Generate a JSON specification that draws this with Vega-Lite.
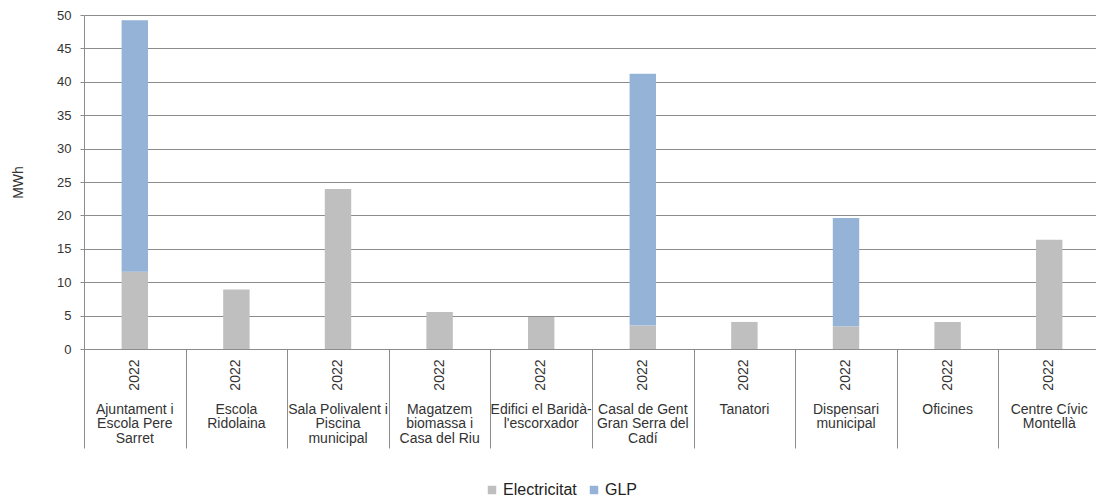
{
  "$schema": "https://vega.github.io/schema/vega-lite/v6.json",
  "width": 1016,
  "height": 334,
  "autosize": {"type": "none"},
  "padding": {"left": 84, "top": 15, "right": -4, "bottom": 150},
  "background": "white",
  "config": {"font": "Liberation Sans", "view": {"stroke": null}},
  "data": {
    "values": [
      {"edifici": "Ajuntament i\nEscola Pere\nSarret", "any": 2022, "font": "Electricitat", "mwh": 11.55},
      {"edifici": "Ajuntament i\nEscola Pere\nSarret", "any": 2022, "font": "GLP", "mwh": 37.65},
      {"edifici": "Escola\nRidolaina", "any": 2022, "font": "Electricitat", "mwh": 8.9},
      {"edifici": "Sala Polivalent i\nPiscina\nmunicipal", "any": 2022, "font": "Electricitat", "mwh": 23.95},
      {"edifici": "Magatzem\nbiomassa i\nCasa del Riu", "any": 2022, "font": "Electricitat", "mwh": 5.54},
      {"edifici": "Edifici el Baridà-\nl'escorxador", "any": 2022, "font": "Electricitat", "mwh": 4.79},
      {"edifici": "Casal de Gent\nGran Serra del\nCadí", "any": 2022, "font": "Electricitat", "mwh": 3.5},
      {"edifici": "Casal de Gent\nGran Serra del\nCadí", "any": 2022, "font": "GLP", "mwh": 37.7},
      {"edifici": "Tanatori", "any": 2022, "font": "Electricitat", "mwh": 4.05},
      {"edifici": "Dispensari\nmunicipal", "any": 2022, "font": "Electricitat", "mwh": 3.4},
      {"edifici": "Dispensari\nmunicipal", "any": 2022, "font": "GLP", "mwh": 16.2},
      {"edifici": "Oficines", "any": 2022, "font": "Electricitat", "mwh": 4.04},
      {"edifici": "Centre Cívic\nMontellà", "any": 2022, "font": "Electricitat", "mwh": 16.36}
    ]
  },
  "encoding": {
    "y": {
      "field": "mwh", "type": "quantitative", "stack": "zero",
      "scale": {"domain": [0, 50], "nice": false},
      "axis": {
        "title": "MWh", "titleFontSize": 14, "titleFontWeight": "normal", "titleColor": "#333333",
        "titlePadding": 31, "labelFontSize": 13, "labelColor": "#333333", "labelPadding": 9,
        "tickSize": 4, "tickCount": 10, "gridColor": "#8c8c8c", "domainColor": "#8c8c8c", "tickColor": "#8c8c8c"
      }
    }
  },
  "layer": [
    {
      "mark": {"type": "bar", "width": {"band": 0.26}},
      "encoding": {
        "x": {
          "field": "edifici", "type": "nominal", "sort": null,
          "scale": {"paddingInner": 0, "paddingOuter": 0},
          "axis": {
            "orient": "bottom", "title": null, "labels": false,
            "tickBand": "extent", "tickSize": 99, "tickColor": "#8c8c8c", "domainColor": "#8c8c8c", "grid": false
          }
        },
        "color": {
          "field": "font", "type": "nominal",
          "scale": {"domain": ["Electricitat", "GLP"], "range": ["#BFBFBF", "#95B3D7"]},
          "legend": {
            "orient": "none", "legendX": 400, "legendY": 467, "direction": "horizontal", "title": null,
            "symbolType": "square", "symbolSize": 72, "symbolStrokeWidth": 0, "labelFontSize": 16,
            "labelColor": "#222222", "labelOffset": 3, "columnPadding": 9
          }
        },
        "order": {"field": "font", "sort": "ascending"}
      }
    },
    {
      "mark": {"type": "bar", "opacity": 0},
      "encoding": {
        "x": {
          "field": "edifici", "type": "nominal", "sort": null,
          "scale": {"paddingInner": 0, "paddingOuter": 0},
          "axis": {
            "orient": "bottom", "title": null, "labelAngle": -90, "labelExpr": "'2022'",
            "domain": false, "ticks": false, "grid": false, "labelPadding": 10,
            "labelFontSize": 14, "labelColor": "#333333", "labelAlign": "right", "labelBaseline": "middle"
          }
        }
      }
    },
    {
      "mark": {"type": "bar", "opacity": 0},
      "encoding": {
        "x": {
          "field": "edifici", "type": "nominal", "sort": null,
          "scale": {"paddingInner": 0, "paddingOuter": 0},
          "axis": {
            "orient": "bottom", "title": null, "labelAngle": 0, "domain": false, "ticks": false, "grid": false,
            "labelExpr": "split(datum.label, '\\n')", "labelBaseline": "top", "labelPadding": 53,
            "labelLineHeight": 14.5, "labelFontSize": 14, "labelColor": "#333333", "labelLimit": 200
          }
        }
      }
    }
  ],
  "resolve": {"scale": {"x": "independent"}}
}
